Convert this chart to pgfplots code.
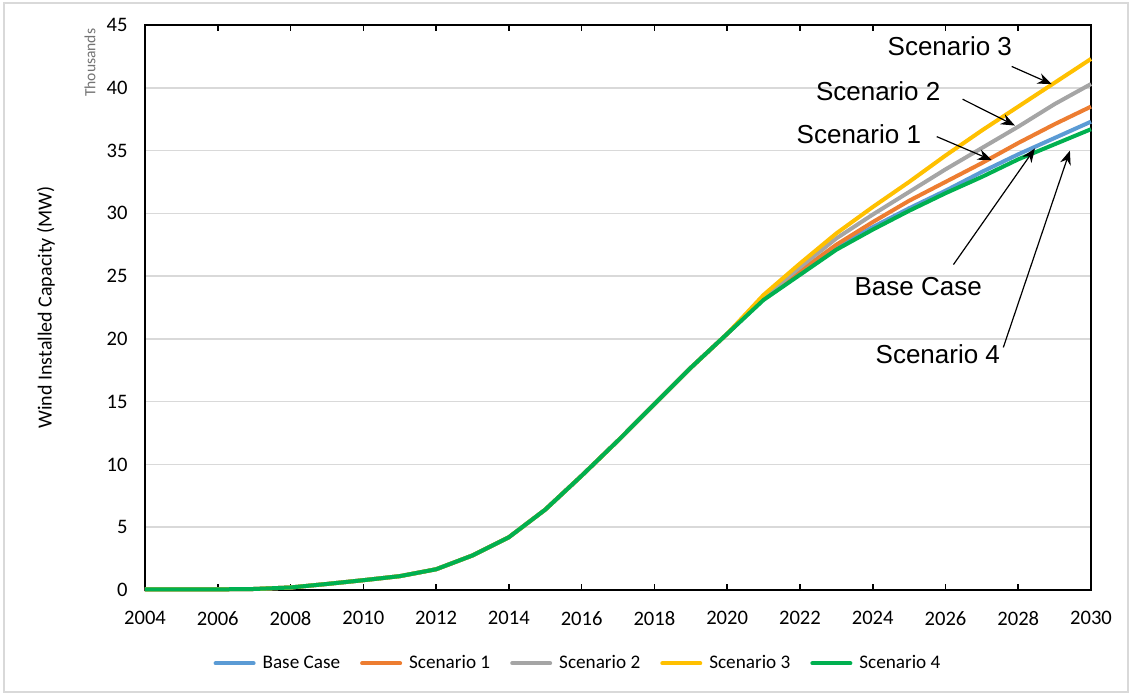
\documentclass[border=0pt]{standalone}
\usepackage{fontspec}
\setmainfont{Carlito}
\newfontfamily\arialf{Liberation Sans}
\usepackage{pgfplots}
\usepackage{pgfplotstable}
\pgfplotsset{compat=1.18}
\usetikzlibrary{arrows.meta}

\definecolor{cBase}{HTML}{5B9BD5}
\definecolor{cOne}{HTML}{ED7D31}
\definecolor{cTwo}{HTML}{A5A5A5}
\definecolor{cThree}{HTML}{FFC000}
\definecolor{cFour}{HTML}{00B050}
\definecolor{gridc}{HTML}{D9D9D9}

% Installed wind capacity, thousands of MW
\pgfplotstableread{
year base s1 s2 s3 s4
2004 0.05 0.05 0.05 0.05 0.05
2005 0.05 0.05 0.05 0.05 0.05
2006 0.05 0.05 0.05 0.05 0.05
2007 0.08 0.08 0.08 0.08 0.08
2008 0.20 0.20 0.20 0.20 0.20
2009 0.48 0.48 0.48 0.48 0.48
2010 0.78 0.78 0.78 0.78 0.78
2011 1.10 1.10 1.10 1.10 1.10
2012 1.65 1.65 1.65 1.65 1.65
2013 2.75 2.75 2.75 2.75 2.75
2014 4.20 4.20 4.20 4.20 4.20
2015 6.40 6.40 6.40 6.40 6.40
2016 9.10 9.10 9.10 9.10 9.10
2017 11.9 11.9 11.9 11.9 11.9
2018 14.8 14.8 14.8 14.8 14.8
2019 17.7 17.7 17.7 17.7 17.7
2020 20.4 20.4 20.4 20.4 20.4
2021 23.2 23.2 23.3 23.5 23.1
2022 25.2 25.4 25.7 26.0 25.1
2023 27.3 27.5 28.0 28.4 27.1
2024 28.9 29.3 29.9 30.5 28.7
2025 30.4 31.0 31.7 32.5 30.2
2026 31.8 32.5 33.5 34.6 31.6
2027 33.3 34.0 35.2 36.6 32.9
2028 34.7 35.6 36.9 38.5 34.3
2029 36.0 37.1 38.7 40.4 35.5
2030 37.3 38.5 40.3 42.3 36.7
}\windtable

\begin{document}
\begin{tikzpicture}
\path[use as bounding box] (-72.5pt,-53pt) rectangle (493.5pt,295pt);
\draw[gridc, line width=0.6pt] (-70.5pt,-51pt) rectangle (491.5pt,293.5pt);
\begin{axis}[
  at={(0,0)}, anchor=south west,
  scale only axis,
  width=473pt, height=282.5pt,
  xmin=2004, xmax=2030,
  ymin=0, ymax=45,
  xtick={2004,2006,...,2030},
  ytick={0,5,...,45},
  /pgf/number format/assume math mode=true,
  xticklabel style={/pgf/number format/1000 sep={}, font=\fontsize{10.3}{12}\selectfont, inner sep=0pt, anchor=north, yshift=-10.5pt},
  yticklabel style={font=\fontsize{10.3}{12}\selectfont, inner sep=0pt, anchor=east, xshift=-8.5pt},
  tick align=inside,
  major tick length=3pt,
  xtick style={black, line width=0.8pt},
  ytick style={draw=none},
  axis line style={black, line width=0.9pt},
  ymajorgrids,
  major grid style={gridc, line width=0.8pt},
  every axis y label/.style={at={(axis description cs:-0.1047,0.5)}, anchor=center, rotate=90},
  ylabel={\fontsize{10}{12}\selectfont Wind Installed Capacity (MW)},
  legend style={at={(axis description cs:0.4588,-0.1297)}, anchor=center,
    draw=none, fill=none, legend columns=5,
    font=\fontsize{9.6}{11}\selectfont,
    /tikz/every even column/.append style={column sep=8pt},
    /tikz/every odd column/.append style={column sep=1.5pt}},
  legend image code/.code={\draw[#1, line width=2pt, line cap=round] (0pt,0pt) -- (19pt,0pt);},
  every axis plot/.append style={line width=2pt, line join=round, no markers},
  clip=false,
]
\addplot[cBase]  table[x=year, y=base] {\windtable};
\addlegendentry{Base Case}
\addplot[cOne]   table[x=year, y=s1]   {\windtable};
\addlegendentry{Scenario 1}
\addplot[cTwo]   table[x=year, y=s2]   {\windtable};
\addlegendentry{Scenario 2}
\addplot[cThree] table[x=year, y=s3]   {\windtable};
\addlegendentry{Scenario 3}
\addplot[cFour]  table[x=year, y=s4]   {\windtable};
\addlegendentry{Scenario 4}

% unit note beside the value axis
\node[rotate=90, text=black!55, font=\fontsize{7.8}{9}\selectfont]
  at (axis description cs:-0.0581,0.933) {Thousands};

% scenario call-outs
\begin{scope}[font=\arialf\fontsize{13}{15}\selectfont]
\node at (axis cs:2026.12,43.33) {Scenario 3};
\node at (axis cs:2024.15,39.73) {Scenario 2};
\node at (axis cs:2023.62,36.29) {Scenario 1};
\node at (axis cs:2025.25,24.14) {Base Case};
\node at (axis cs:2025.79,18.78) {Scenario 4};
\end{scope}
\begin{scope}[-{Stealth[length=7pt,width=5.5pt]}, line width=0.6pt, black]
\draw (axis cs:2027.82,41.70) -- (axis cs:2028.92,40.29);
\draw (axis cs:2026.47,39.09) -- (axis cs:2027.91,36.99);
\draw (axis cs:2025.76,36.11) -- (axis cs:2027.27,34.24);
\draw (axis cs:2026.22,25.92) -- (axis cs:2028.46,35.17);
\draw (axis cs:2027.59,19.32) -- (axis cs:2029.42,34.99);
\end{scope}
\end{axis}
\end{tikzpicture}
\end{document}
